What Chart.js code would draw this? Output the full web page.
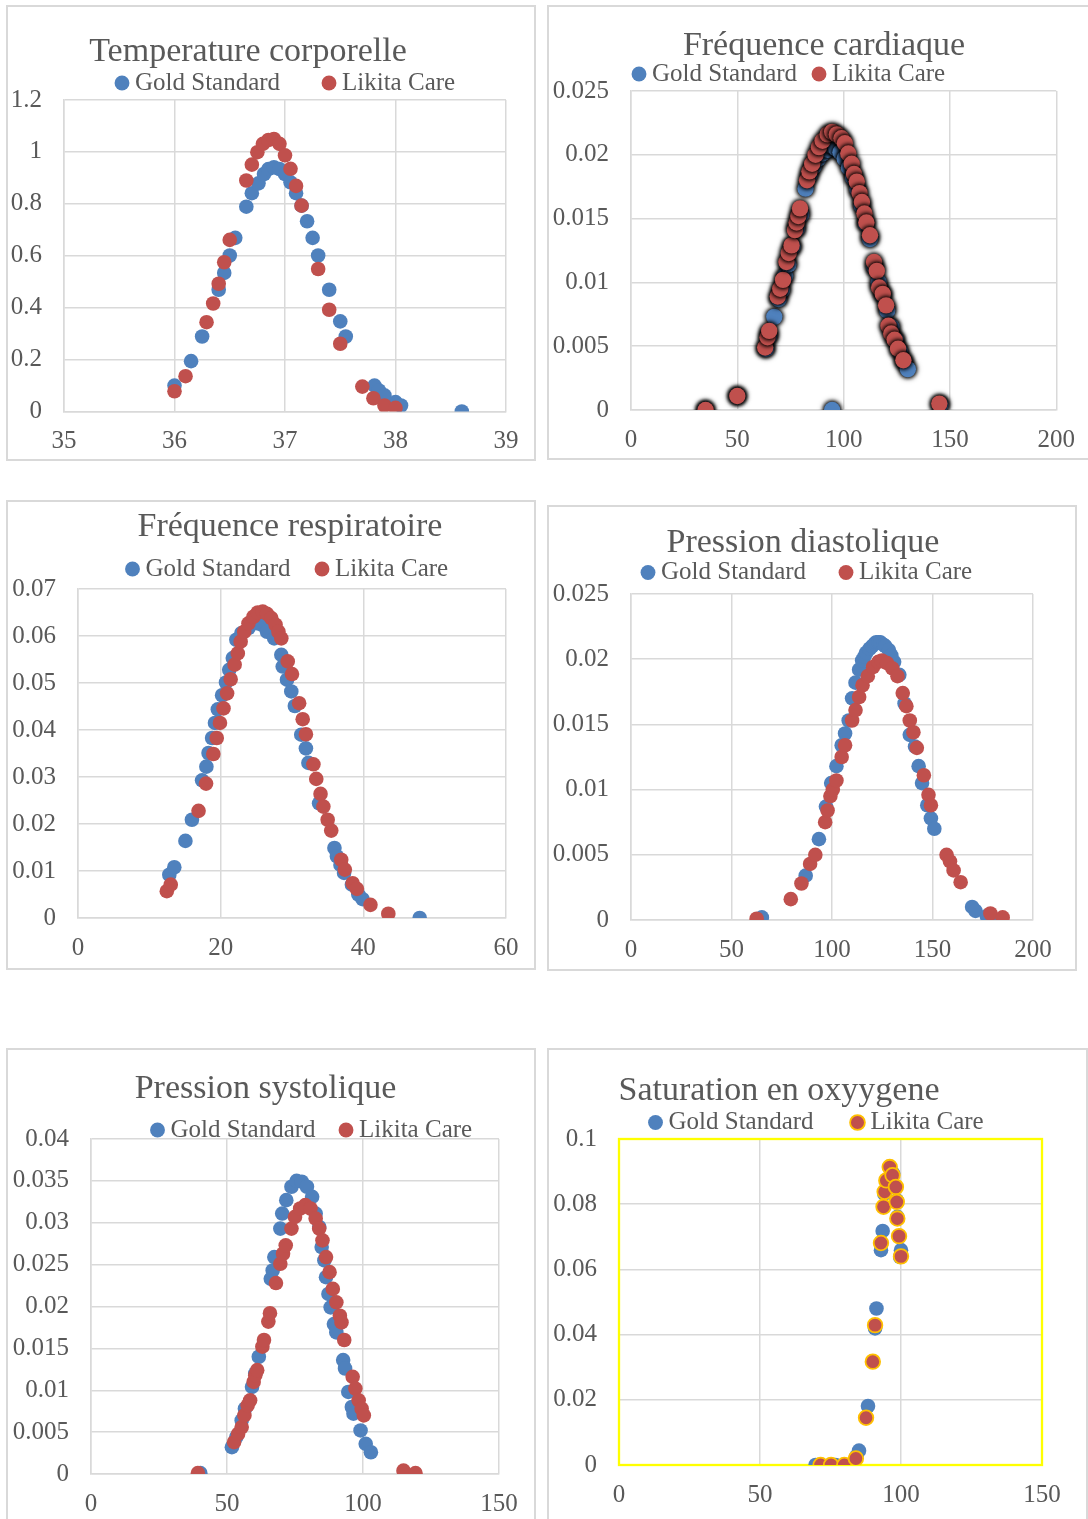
<!DOCTYPE html>
<html><head><meta charset="utf-8">
<script src="https://cdn.jsdelivr.net/npm/chart.js@4.4.1/dist/chart.umd.min.js"></script>
<style>
html,body{margin:0;padding:0;background:#fff;width:1088px;height:1519px;overflow:hidden;}
.panel{position:absolute;box-sizing:border-box;border:2px solid #D9D9D9;}
canvas{position:absolute;}
</style></head><body>
<script>
// ---------- DATA ----------
const seriesNames = ['Gold Standard', 'Likita Care'];

// Temperature corporelle
const tempTicksX = [35, 36, 37, 38, 39];
const tempTicksY = [0, 0.2, 0.4, 0.6, 0.8, 1, 1.2];
const tempGoldX = [36.0, 36.15, 36.25, 36.40, 36.45, 36.50, 36.55, 36.65, 36.70, 36.76, 36.81, 36.85, 36.90, 36.95, 37.0, 37.05, 37.10, 37.15, 37.20, 37.25, 37.30, 37.40, 37.50, 37.55, 37.81, 37.85, 37.90, 38.0, 38.05, 38.6];
const tempGoldY = [0.100, 0.194, 0.289, 0.469, 0.534, 0.601, 0.669, 0.789, 0.841, 0.879, 0.915, 0.934, 0.941, 0.934, 0.915, 0.883, 0.841, 0.793, 0.733, 0.669, 0.601, 0.469, 0.347, 0.289, 0.100, 0.081, 0.062, 0.036, 0.023, 0.0];
const tempLikX = [36.0, 36.10, 36.29, 36.35, 36.40, 36.45, 36.50, 36.65, 36.70, 36.75, 36.80, 36.85, 36.90, 36.95, 37.0, 37.05, 37.10, 37.15, 37.30, 37.40, 37.50, 37.70, 37.80, 37.90, 38.0];
const tempLikY = [0.078, 0.136, 0.344, 0.416, 0.492, 0.575, 0.661, 0.890, 0.951, 0.999, 1.031, 1.046, 1.050, 1.031, 0.987, 0.935, 0.869, 0.793, 0.549, 0.392, 0.261, 0.096, 0.051, 0.023, 0.014];

// Fréquence cardiaque
const fcTicksX = [0, 50, 100, 150, 200];
const fcTicksY = [0, 0.005, 0.01, 0.015, 0.02, 0.025];
const fcGoldX = [35, 50, 63.5, 65, 67.4, 69.5, 71, 72.5, 74, 76, 78, 80, 82.1, 84, 86, 88, 90, 92.5, 94.6, 96.5, 98.5, 100.5, 102.5, 104.5, 106.5, 108.5, 110.5, 112.4, 114.5, 116.5, 118.5, 120.5, 122.5, 124.5, 126.5, 128.5, 130.2, 145.5, 94.6];
const fcGoldY = [0, 0.0011, 0.0048, 0.0058, 0.0073, 0.0087, 0.0094, 0.0105, 0.0114, 0.0128, 0.0142, 0.0153, 0.01735, 0.0184, 0.0191, 0.0197, 0.0201, 0.0204, 0.0207, 0.0205, 0.0202, 0.0197, 0.0190, 0.0182, 0.0173, 0.0160, 0.0146, 0.0134, 0.0112, 0.0100, 0.0090, 0.0078, 0.0065, 0.0055, 0.0046, 0.0038, 0.0032, 0.0004, 0];
const fcLikX = [35.1, 50, 63.1, 64.2, 65.0, 69.0, 70.2, 71.5, 73.1, 74.2, 75.5, 77.1, 77.9, 78.7, 79.5, 82.8, 83.9, 85.2, 86.8, 88.4, 90.1, 92.5, 94.6, 96.8, 99.0, 100.6, 102.2, 103.8, 104.9, 106.2, 107.5, 108.6, 109.8, 110.7, 112.4, 114.3, 115.6, 116.7, 118.4, 120.0, 121.1, 122.4, 124.0, 125.6, 128.1, 145.0];
const fcLikY = [0, 0.0011, 0.0049, 0.0057, 0.0062, 0.0089, 0.0095, 0.0102, 0.0116, 0.0123, 0.0129, 0.0141, 0.0147, 0.0152, 0.0158, 0.0180, 0.0187, 0.0193, 0.0200, 0.0206, 0.0211, 0.0216, 0.0218, 0.0216, 0.0213, 0.0209, 0.0201, 0.0193, 0.0185, 0.0179, 0.0170, 0.0163, 0.0154, 0.0147, 0.0137, 0.0116, 0.0109, 0.0096, 0.0091, 0.0082, 0.0066, 0.0060, 0.0055, 0.0048, 0.0039, 0.0005];

// Fréquence respiratoire
const frTicksX = [0, 20, 40, 60];
const frTicksY = [0, 0.01, 0.02, 0.03, 0.04, 0.05, 0.06, 0.07];
const frGoldX = [12.8, 13.5, 15.06, 15.97, 17.4, 18.0, 18.3, 18.8, 19.2, 19.6, 20.2, 20.75, 21.2, 21.7, 22.2, 22.9, 23.9, 25.1, 25.8, 26.5, 27.5, 28.5, 28.7, 29.3, 29.9, 30.4, 31.3, 31.95, 32.3, 33.8, 35.95, 36.3, 36.8, 37.3, 38.4, 39.3, 39.9, 47.9];
const frGoldY = [0.0092, 0.0108, 0.0164, 0.0209, 0.0293, 0.0322, 0.0351, 0.0383, 0.0415, 0.0444, 0.0474, 0.0501, 0.0528, 0.0553, 0.0592, 0.0606, 0.0617, 0.0627, 0.0624, 0.0609, 0.0595, 0.0560, 0.0535, 0.0507, 0.0482, 0.0451, 0.0390, 0.0361, 0.0330, 0.0244, 0.0149, 0.0131, 0.0113, 0.0096, 0.0071, 0.0050, 0.0040, 0];
const frLikX = [12.45, 13.0, 16.9, 17.95, 18.97, 19.45, 19.9, 20.4, 20.9, 21.4, 21.96, 22.4, 22.8, 23.3, 23.9, 24.6, 25.2, 25.9, 26.5, 27.1, 27.7, 28.1, 28.5, 29.4, 30.0, 31.0, 31.5, 31.95, 33.0, 33.4, 34.0, 34.4, 35.0, 35.5, 36.9, 37.4, 38.5, 39.1, 41.0, 43.5];
const frLikY = [0.0057, 0.0071, 0.0228, 0.0286, 0.0349, 0.0383, 0.0415, 0.0446, 0.0478, 0.0508, 0.0539, 0.0563, 0.0588, 0.0609, 0.0627, 0.0641, 0.0650, 0.0652, 0.0647, 0.0638, 0.0624, 0.0609, 0.0595, 0.0546, 0.0519, 0.0457, 0.0423, 0.0391, 0.0327, 0.0296, 0.0264, 0.0237, 0.0209, 0.0186, 0.0124, 0.0103, 0.0074, 0.0062, 0.0028, 0.0009];

// Pression diastolique
const pdTicksX = [0, 50, 100, 150, 200];
const pdTicksY = [0, 0.005, 0.01, 0.015, 0.02, 0.025];
const pdGoldX = [65.1, 86.9, 93.5, 97.0, 99.6, 102.2, 104.8, 106.5, 108.3, 110.0, 111.7, 113.5, 115.0, 116.1, 117.0, 118.7, 120.0, 121.3, 122.0, 123.1, 124.0, 125.7, 126.5, 128.3, 129.5, 130.9, 133.5, 136.1, 138.7, 141.3, 143.1, 144.8, 147.4, 149.2, 150.9, 169.7, 171.4, 177.0, 180.0];
const pdGoldY = [0.0002, 0.0034, 0.0062, 0.0087, 0.0105, 0.0118, 0.0134, 0.0143, 0.0153, 0.0170, 0.0182, 0.0192, 0.0199, 0.0202, 0.0205, 0.0208, 0.0210, 0.0212, 0.0213, 0.0213, 0.0213, 0.0211, 0.0210, 0.0207, 0.0203, 0.0198, 0.0188, 0.0166, 0.0142, 0.0133, 0.0118, 0.0105, 0.0088, 0.0078, 0.0070, 0.0010, 0.0007, 0.0003, 0.0001];
const pdLikX = [62.5, 79.5, 84.8, 89.1, 91.7, 96.6, 97.8, 99.2, 100.4, 102.2, 104.8, 106.5, 110.0, 111.7, 113.5, 115.2, 117.8, 120.4, 123.1, 124.8, 127.4, 130.0, 132.6, 135.2, 137.0, 138.7, 140.5, 142.2, 145.7, 148.0, 149.2, 157.0, 158.7, 160.5, 164.0, 178.8, 184.9];
const pdLikY = [0.0001, 0.0016, 0.0028, 0.0043, 0.0050, 0.0075, 0.0084, 0.0095, 0.0100, 0.0107, 0.0125, 0.0134, 0.0153, 0.0161, 0.0171, 0.0180, 0.0187, 0.0194, 0.0198, 0.0199, 0.0197, 0.0193, 0.0187, 0.0174, 0.0164, 0.0153, 0.0144, 0.0132, 0.0111, 0.0096, 0.0088, 0.0050, 0.0045, 0.0038, 0.0029, 0.0005, 0.0002];

// Pression systolique
const psTicksX = [0, 50, 100, 150];
const psTicksY = [0, 0.005, 0.01, 0.015, 0.02, 0.025, 0.03, 0.035, 0.04];
const psGoldX = [40.2, 51.8, 53.4, 55.4, 56.6, 59.2, 60.4, 61.7, 66.1, 66.8, 67.4, 69.6, 70.3, 71.8, 73.7, 75.6, 77.5, 79.4, 81.3, 82.6, 83.9, 84.8, 85.8, 86.4, 87.3, 88.1, 89.3, 90.2, 92.7, 93.4, 94.6, 95.9, 96.5, 99.1, 101.0, 102.9];
const psGoldY = [0.0001, 0.0032, 0.0044, 0.0064, 0.0078, 0.0104, 0.0120, 0.0140, 0.0233, 0.0243, 0.0259, 0.0293, 0.0311, 0.0327, 0.0343, 0.0350, 0.0349, 0.0343, 0.0331, 0.0311, 0.0295, 0.0271, 0.0255, 0.0235, 0.0215, 0.0199, 0.0179, 0.0169, 0.0136, 0.0126, 0.0098, 0.0080, 0.0072, 0.0052, 0.0036, 0.0026];
const psLikX = [39.3, 52.6, 54.1, 55.4, 56.4, 57.6, 58.5, 59.8, 60.4, 61.1, 63.0, 63.6, 65.2, 65.8, 68.0, 69.6, 70.6, 71.6, 73.7, 75.0, 76.9, 78.8, 80.7, 82.6, 83.9, 85.1, 86.4, 87.7, 88.9, 90.2, 91.5, 92.1, 93.1, 96.2, 97.2, 98.4, 99.5, 100.3, 114.9, 119.3];
const psLikY = [0.0001, 0.0038, 0.0048, 0.0056, 0.0070, 0.0082, 0.0088, 0.0110, 0.0118, 0.0124, 0.0152, 0.0160, 0.0182, 0.0192, 0.0228, 0.0251, 0.0263, 0.0273, 0.0293, 0.0307, 0.0317, 0.0321, 0.0317, 0.0305, 0.0293, 0.0279, 0.0259, 0.0241, 0.0221, 0.0205, 0.0189, 0.0181, 0.0160, 0.0116, 0.0102, 0.0088, 0.0078, 0.0070, 0.0004, 0.0001];

// Saturation en oxygène
const soTicksX = [0, 50, 100, 150];
const soTicksY = [0, 0.02, 0.04, 0.06, 0.08, 0.1];
const soGoldX = [69.7, 71.2, 74.9, 76.8, 79.9, 84.2, 85.1, 88.3, 90.0, 90.8, 91.3, 92.9, 93.5, 94.1, 96.0, 97.2, 98.5, 98.7, 99.7, 100.0];
const soGoldY = [0, 0, 0, 0, 0, 0.0026, 0.0044, 0.0181, 0.0317, 0.0419, 0.0480, 0.0659, 0.0718, 0.0832, 0.0914, 0.0894, 0.0812, 0.0761, 0.0638, 0.0659];
const soLikX = [71.5, 75.2, 79.9, 84.0, 87.6, 90.0, 90.8, 92.9, 93.8, 94.2, 94.8, 96.0, 97.0, 98.2, 98.5, 98.7, 99.3, 100.0];
const soLikY = [0, 0, 0, 0.0020, 0.0145, 0.0317, 0.0429, 0.0681, 0.0792, 0.0838, 0.0873, 0.0914, 0.0889, 0.0853, 0.0807, 0.0756, 0.0702, 0.0640];

// ---------- STYLE / LAYOUT ----------
const FONT = '"Liberation Serif", "Times New Roman", serif';
const TEXT = '#595959', GRID = '#D9D9D9', BLUE = '#4F81BD', RED = '#C0504D', RING = '#FFC000';
const TITLE_SIZE = 34, LEG_SIZE = 25, TICK_SIZE = 25;
const BOX_W = 1, BOX_H = 10.5, LEG_H = 20, PT_R = 7.3;

const panels = [
  {title:'Temperature corporelle', left:6, top:5, w:530, h:456, plot:{l:64, r:506, t:100, b:411.5}, tcx:248, tcy:50, ly:82, bx:122, rx:329,
   xt:tempTicksX, yt:tempTicksY, gx:tempGoldX, gy:tempGoldY, lx:tempLikX, lyv:tempLikY},
  {title:'Fréquence cardiaque', left:547, top:5, w:543, h:455, plot:{l:631, r:1064, t:91, b:410}, tcx:824, tcy:44, ly:73, bx:639, rx:819,
   xt:fcTicksX, yt:fcTicksY, gx:fcGoldX, gy:fcGoldY, lx:fcLikX, lyv:fcLikY, shadow:true, r:8.2},
  {title:'Fréquence respiratoire', left:6, top:500, w:530, h:470, plot:{l:78, r:506, t:589, b:918}, tcx:290, tcy:525, ly:568, bx:132.5, rx:322,
   xt:frTicksX, yt:frTicksY, gx:frGoldX, gy:frGoldY, lx:frLikX, lyv:frLikY},
  {title:'Pression diastolique', left:547, top:505, w:530, h:466, plot:{l:631, r:1033, t:594, b:920}, tcx:803, tcy:541, ly:571.5, bx:648, rx:846,
   xt:pdTicksX, yt:pdTicksY, gx:pdGoldX, gy:pdGoldY, lx:pdLikX, lyv:pdLikY},
  {title:'Pression systolique', left:6, top:1048, w:530, h:490, plot:{l:91, r:499, t:1139, b:1474}, tcx:265.5, tcy:1087, ly:1129, bx:157.5, rx:346,
   xt:psTicksX, yt:psTicksY, gx:psGoldX, gy:psGoldY, lx:psLikX, lyv:psLikY},
  {title:'Saturation en oxyygene', left:547, top:1048, w:541, h:490, plot:{l:619, r:1042, t:1139, b:1465}, tcx:779, tcy:1089, ly:1121.5, bx:655.5, rx:857.5,
   xt:soTicksX, yt:soTicksY, gx:soGoldX, gy:soGoldY, lx:soLikX, lyv:soLikY, ring:true, frame:'#FFFF00'}
];

const meas = document.createElement('canvas').getContext('2d');
meas.font = LEG_SIZE + 'px ' + FONT;

function zip(xs, ys){ return xs.map((x, i) => ({x: x, y: ys[i]})); }

function build(p){
  const div = document.createElement('div');
  div.className = 'panel';
  Object.assign(div.style, {left:p.left+'px', top:p.top+'px', width:p.w+'px', height:p.h+'px'});
  document.body.appendChild(div);
  const cv = document.createElement('canvas');
  cv.width = p.w; cv.height = p.h;
  cv.style.left = p.left + 'px'; cv.style.top = p.top + 'px';
  cv.style.width = p.w + 'px'; cv.style.height = p.h + 'px';
  document.body.appendChild(cv);

  const tw = meas.measureText(seriesNames[0]).width;
  const legPad = Math.max(9, (p.rx - p.bx) - (BOX_W + LEG_SIZE/2 + tw));
  const titleH = TITLE_SIZE * 1.2;
  const padTop = (p.plot.t - p.top) - titleH - LEG_H;
  const xs = p.xt, ys = p.yt;
  const rad = p.r || PT_R;

  const place = {
    id: 'place',
    afterLayout(chart){
      const t = chart.titleBlock;
      if (t){ t.left = p.tcx - p.left - 400; t.right = p.tcx - p.left + 400; t.width = 800;
              t.top = p.tcy + 2 - p.top - titleH/2; t.bottom = t.top + titleH; t.height = titleH; }
      const L = chart.legend;
      if (L){ L.left = p.bx - p.left - BOX_W/2 - legPad; L.right = L.left + 1000; L.width = 1000;
              L.top = p.ly + 1 - p.top - legPad - LEG_SIZE/2; L.bottom = L.top + legPad + LEG_SIZE + 30;
              L.height = L.bottom - L.top; }
    },
    beforeDatasetsDraw(chart){
      const c = chart.ctx, a = chart.chartArea;
      if (p.frame){
        c.save(); c.strokeStyle = p.frame; c.lineWidth = 2.3;
        c.strokeRect(a.left, a.top, a.right - a.left, a.bottom - a.top); c.restore();
      }
      if (p.shadow){
        c.save();
        if ('filter' in c) { c.filter = 'drop-shadow(0 0 2px #000) drop-shadow(0 0 2px #000)'; }
        else { c.shadowColor = '#000'; c.shadowBlur = 5; }
      }
    },
    afterDatasetsDraw(chart){ if (p.shadow) chart.ctx.restore(); }
  };

  const tickFont = {family: FONT, size: TICK_SIZE};
  new Chart(cv, {
    type: 'scatter',
    data: { datasets: [
      {label: seriesNames[0], data: zip(p.gx, p.gy), backgroundColor: BLUE, borderColor: BLUE, borderWidth: 0,
       pointRadius: rad, pointHoverRadius: rad, pointStyle: 'circle', order: 1},
      {label: seriesNames[1], data: zip(p.lx, p.lyv), backgroundColor: RED, borderColor: p.ring ? RING : RED,
       borderWidth: p.ring ? 1.8 : 0, pointRadius: rad, pointHoverRadius: rad, pointStyle: 'circle', order: 0}
    ]},
    options: {
      responsive: false, animation: false, events: [],
      layout: {padding: {left: 0, right: p.left + p.w - p.plot.r, top: padTop, bottom: 0}},
      plugins: {
        title: {display: true, text: p.title, color: TEXT, padding: 0,
                font: {family: FONT, size: TITLE_SIZE, weight: 'normal', lineHeight: 1.2}},
        legend: {display: true, align: 'start', maxHeight: LEG_H,
                 labels: {usePointStyle: true, pointStyle: 'circle', boxWidth: BOX_W, boxHeight: BOX_H,
                          padding: legPad, color: TEXT, font: {family: FONT, size: LEG_SIZE},
                          sort: (a, b) => a.datasetIndex - b.datasetIndex}},
        tooltip: {enabled: false}
      },
      scales: {
        x: {type: 'linear', position: 'bottom', min: xs[0], max: xs[xs.length-1],
            grid: {color: GRID, lineWidth: 1.5, drawTicks: false},
            border: {color: GRID, width: 1.5},
            ticks: {color: TEXT, font: tickFont, padding: 15, autoSkip: false, maxRotation: 0, minRotation: 0,
                    callback: v => String(v)},
            afterBuildTicks: s => { s.ticks = xs.map(v => ({value: v})); },
            afterFit: s => { s.height = p.top + p.h - p.plot.b; }},
        y: {type: 'linear', position: 'left', min: ys[0], max: ys[ys.length-1],
            grid: {color: GRID, lineWidth: 1.5, drawTicks: false},
            border: {color: GRID, width: 1.5},
            ticks: {color: TEXT, font: tickFont, padding: 22, autoSkip: false, callback: v => String(v)},
            afterBuildTicks: s => { s.ticks = ys.map(v => ({value: v})); },
            afterFit: s => { s.width = p.plot.l - p.left; }}
      }
    },
    plugins: [place]
  });
}
panels.forEach(build);
</script>
</body></html>
